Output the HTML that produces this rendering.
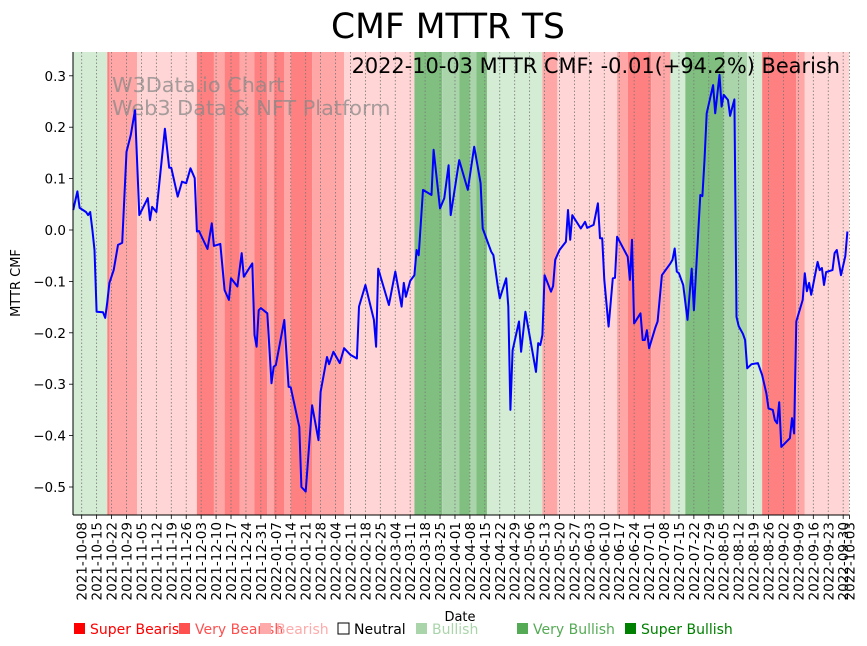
<!DOCTYPE html>
<html><head><meta charset="utf-8"><style>
body{margin:0;background:#fff;}
svg{display:block;font-family:"DejaVu Sans","Liberation Sans",sans-serif;}
</style></head><body>
<svg id="chart" width="867" height="646" viewBox="0 0 867 646" xmlns="http://www.w3.org/2000/svg">
<rect width="867" height="646" fill="#fff"/>
<g id="bands"></g>
<g id="grid"></g>
<text x="112" y="92" font-size="20.8" fill="#888" fill-opacity="0.75">W3Data.io Chart</text>
<text x="112" y="115" font-size="20.8" fill="#888" fill-opacity="0.75">Web3 Data &amp; NFT Platform</text>
<path id="line" fill="none" stroke="#0000ff" stroke-width="2" stroke-linejoin="round"/>
<g id="axes"></g>
<text x="448" y="38" font-size="34.5" text-anchor="middle" fill="#000">CMF MTTR TS</text>
<text x="840" y="73" font-size="20.9" text-anchor="end" fill="#000">2022-10-03 MTTR CMF: -0.01(+94.2%) Bearish</text>
<text transform="translate(20,283) rotate(-90)" font-size="13" text-anchor="middle">MTTR CMF</text>
<text x="460" y="621" font-size="13" text-anchor="middle">Date</text>
<g id="legend" font-size="14"></g>
</svg>
<script>
const dayIdx=[-4,-2,-1,2,3,4,5,6,7,10,11,12,13,15,17,18,19,21,23,25,27,31,32,33,35,39,41,42,45,47,49,51,53,54,55,59,61,62,65,67,69,70,73,75,76,80,81,82,83,84,87,89,90,91,95,97,98,102,103,105,108,111,112,115,116,118,121,123,126,129,130,133,137,138,139,144,147,150,151,152,154,156,157,158,160,164,165,168,170,172,173,177,181,184,187,188,192,193,195,196,199,200,201,202,205,206,208,213,214,215,216,217,220,221,222,224,227,228,229,230,234,236,237,240,242,243,244,245,247,249,250,251,256,257,258,259,262,263,264,265,266,269,270,272,276,277,278,279,280,282,284,286,287,290,291,292,293,296,297,299,300,301,303,304,305,306,307,308,310,311,312,314,317,319,321,322,324,325,326,327,328,332,333,334,335,338,339,340,341,342,345,346,347,348,349,352,353,354,356,358,359];
const cmfValues=[0.039,0.075,0.043,0.035,0.029,0.035,0.0,-0.039,-0.159,-0.160,-0.171,-0.140,-0.103,-0.078,-0.029,-0.027,-0.025,0.152,0.185,0.233,0.029,0.062,0.019,0.045,0.035,0.197,0.121,0.121,0.065,0.094,0.091,0.120,0.101,-0.003,-0.002,-0.037,0.013,-0.031,-0.027,-0.117,-0.136,-0.094,-0.110,-0.045,-0.091,-0.065,-0.204,-0.227,-0.156,-0.152,-0.162,-0.298,-0.266,-0.263,-0.175,-0.305,-0.306,-0.383,-0.500,-0.509,-0.341,-0.409,-0.315,-0.247,-0.261,-0.237,-0.259,-0.230,-0.243,-0.250,-0.149,-0.107,-0.175,-0.227,-0.075,-0.146,-0.081,-0.149,-0.103,-0.130,-0.099,-0.088,-0.039,-0.049,0.078,0.068,0.156,0.042,0.062,0.126,0.029,0.136,0.078,0.162,0.091,0.003,-0.042,-0.049,-0.107,-0.133,-0.094,-0.149,-0.350,-0.234,-0.178,-0.237,-0.159,-0.276,-0.220,-0.224,-0.204,-0.088,-0.120,-0.109,-0.058,-0.039,-0.023,0.039,-0.019,0.029,0.003,0.016,0.004,0.010,0.052,-0.016,-0.016,-0.097,-0.188,-0.094,-0.093,-0.013,-0.052,-0.097,-0.019,-0.182,-0.162,-0.214,-0.214,-0.195,-0.230,-0.189,-0.178,-0.088,-0.065,-0.058,-0.036,-0.081,-0.084,-0.107,-0.175,-0.075,-0.156,0.068,0.066,0.136,0.227,0.282,0.227,0.302,0.240,0.263,0.253,0.222,0.239,0.254,-0.169,-0.187,-0.202,-0.214,-0.269,-0.261,-0.259,-0.282,-0.318,-0.347,-0.350,-0.370,-0.376,-0.335,-0.422,-0.405,-0.366,-0.396,-0.178,-0.136,-0.084,-0.119,-0.103,-0.126,-0.062,-0.078,-0.074,-0.107,-0.082,-0.078,-0.045,-0.039,-0.088,-0.051,-0.003];
const bandStart=[-4,12,13,26,54,62,67,74,81,87,90,95,98,108,123,156,169,177,182,185,190,216,223,251,256,267,276,283,301,312,319,335,339];
const bandEnd=[12,13,26,54,62,67,74,81,87,90,95,98,108,123,156,169,177,182,185,190,216,223,251,256,267,276,283,301,312,319,335,339,361];
const bandLevel=[1,-3,-2,-1,-3,-2,-3,-2,-3,-2,-3,-2,-3,-2,-1,3,2,3,2,3,1,-2,-1,-2,-3,-2,1,3,2,1,-3,-2,-1];
const yTicks=[-0.5,-0.4,-0.3,-0.2,-0.1,0.0,0.1,0.2,0.3];
const yTickLabels=["−0.5","−0.4","−0.3","−0.2","−0.1","0.0","0.1","0.2","0.3"];
const xTickDays=[0,7,14,21,28,35,42,49,56,63,70,77,84,91,98,105,112,119,126,133,140,147,154,161,168,175,182,189,196,203,210,217,224,231,238,245,252,259,266,273,280,287,294,301,308,315,322,329,336,343,350,357,360];
const xTickLabels=["2021-10-08","2021-10-15","2021-10-22","2021-10-29","2021-11-05","2021-11-12","2021-11-19","2021-11-26","2021-12-03","2021-12-10","2021-12-17","2021-12-24","2021-12-31","2022-01-07","2022-01-14","2022-01-21","2022-01-28","2022-02-04","2022-02-11","2022-02-18","2022-02-25","2022-03-04","2022-03-11","2022-03-18","2022-03-25","2022-04-01","2022-04-08","2022-04-15","2022-04-22","2022-04-29","2022-05-06","2022-05-13","2022-05-20","2022-05-27","2022-06-03","2022-06-10","2022-06-17","2022-06-24","2022-07-01","2022-07-08","2022-07-15","2022-07-22","2022-07-29","2022-08-05","2022-08-12","2022-08-19","2022-08-26","2022-09-02","2022-09-09","2022-09-16","2022-09-23","2022-09-30","2022-10-03"];
const legendLabels=["Super Bearish","Very Bearish","Bearish","Neutral","Bullish","Very Bullish","Super Bullish"];

const NS="http://www.w3.org/2000/svg";
const L=73,R=849,T=52,B=515;
const xs=d=>81.7+2.133*d;
const ys=v=>230-v*514;
const bandColor={"-3":"#ff8080","-2":"#ffa6a6","-1":"#ffd5d5","1":"#d4ebd4","2":"#aad5aa","3":"#80bf80"};
function mk(tag,attrs,parent){const e=document.createElementNS(NS,tag);for(const k in attrs)e.setAttribute(k,attrs[k]);parent.appendChild(e);return e;}

const bands=document.getElementById('bands');
for(let i=0;i<bandStart.length;i++){
  const x0=Math.max(L,xs(bandStart[i])),x1=Math.min(R,xs(bandEnd[i]));
  const r=mk('rect',{x:x0,y:T,width:Math.max(0,x1-x0),height:B-T,fill:bandColor[bandLevel[i]]},bands);
  
  
}
const grid=document.getElementById('grid');
const axes=document.getElementById('axes');
xTickDays.forEach((d,i)=>{
  const x=xs(d);
  const g=mk('line',{x1:x,x2:x,y1:T,y2:B,stroke:'#777','stroke-width':0.8,'stroke-dasharray':'1.5,2'},grid);
  
  
  mk('line',{x1:x,x2:x,y1:B,y2:B+4,stroke:'#000','stroke-width':0.8},axes);
  const t=mk('text',{transform:`translate(${x+5},${B+7}) rotate(-90)`,'font-size':13.5,'text-anchor':'end',fill:'#000'},axes);
  t.textContent=xTickLabels[i];
  
  
});
yTicks.forEach((v,i)=>{
  const y=ys(v);
  mk('line',{x1:L-4,x2:L,y1:y,y2:y,stroke:'#000','stroke-width':0.8},axes);
  const t=mk('text',{x:L-7,y:y+5,'font-size':13.5,'text-anchor':'end',fill:'#000'},axes);
  t.textContent=yTickLabels[i];
  
  
});
mk('line',{x1:L,x2:L,y1:T,y2:B,stroke:'#000','stroke-width':1},axes);
mk('line',{x1:L,x2:R,y1:B,y2:B,stroke:'#000','stroke-width':1},axes);

let dstr='';
dayIdx.forEach((d,i)=>{dstr+=(i?'L':'M')+xs(d).toFixed(1)+','+ys(cmfValues[i]).toFixed(1);});
document.getElementById('line').setAttribute('d',dstr);

const legend=document.getElementById('legend');
const legX=[73,178,259,337,415,516,624];
const legFill=["#ff0000","#ff5050","#ffaaaa","#ffffff","#aad4aa","#55aa55","#008000"];
const legText=["#ff0000","#ff5050","#ffaaaa","#000000","#aad4aa","#55aa55","#008000"];
legendLabels.forEach((lab,i)=>{
  const g=mk('g',{},legend);
  
  
  mk('rect',{x:legX[i]+1,y:623,width:11,height:11,fill:legFill[i],stroke:i===3?'#000':'none','stroke-width':1},g);
  const t=mk('text',{x:legX[i]+17,y:634,fill:legText[i]},g);
  t.textContent=lab;
});
</script>
</body></html>
